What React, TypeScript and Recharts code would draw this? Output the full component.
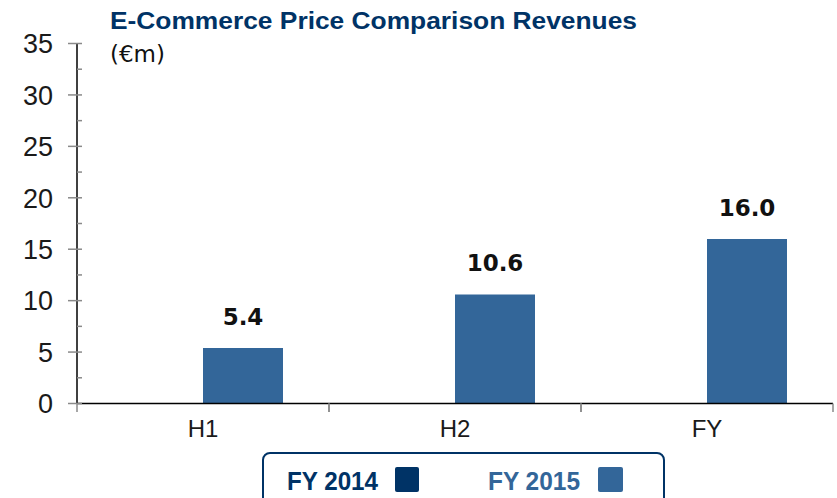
import React from 'react';
import { BarChart, Bar, XAxis, YAxis, LabelList } from 'recharts';

const categories = ['H1', 'H2', 'FY'];
const fy2014: (number | null)[] = [null, null, null];
const fy2015: number[] = [5.4, 10.6, 16.0];
const yTicks: number[] = [0, 2.5, 5, 7.5, 10, 12.5, 15, 17.5, 20, 22.5, 25, 27.5, 30, 32.5, 35];
const seriesNames = ['FY 2014', 'FY 2015'];
const titleText = 'E-Commerce Price Comparison Revenues';
const unitText = '(€m)';

const data = categories.map((c, i) => ({ name: c, fy2014: fy2014[i], fy2015: fy2015[i] }));

const W = 837;
const H = 498;
const MARGIN = { top: 43.5, right: 4, left: 17, bottom: 64.5 };
const Y_AXIS_W = 60;
const PLOT_LEFT = MARGIN.left + Y_AXIS_W;
const PLOT_W = W - MARGIN.right - PLOT_LEFT;
const STEP = PLOT_W / categories.length;

const NAVY = '#003366';
const BLUE = '#336699';
const GREY = '#8a8a8a';

const YTick = (props: any) => {
  const { x, y, payload } = props;
  const v = payload.value as number;
  const major = v % 5 === 0;
  return (
    <g>
      <line x1={major ? x - 9 : x} x2={x + 5} y1={y} y2={y} stroke={GREY} strokeWidth={1.5} />
      {major && (
        <text
          x={x - 24}
          y={y}
          dy="0.36em"
          textAnchor="end"
          fontFamily="'Liberation Sans', Arial, sans-serif"
          fontSize={27}
          fill="#1a1a1a"
        >
          {v}
        </text>
      )}
    </g>
  );
};

const XTick = (props: any) => {
  const { x, y, payload } = props;
  return (
    <g>
      <line x1={x - STEP / 2} x2={x - STEP / 2} y1={y} y2={y + 8.5} stroke={GREY} strokeWidth={1.5} />
      <line x1={x + STEP / 2} x2={x + STEP / 2} y1={y} y2={y + 8.5} stroke={GREY} strokeWidth={1.5} />
      <text
        x={x}
        y={y}
        dy={33.5}
        textAnchor="middle"
        fontFamily="'Liberation Sans', Arial, sans-serif"
        fontSize={24}
        fill="#1a1a1a"
      >
        {payload.value}
      </text>
    </g>
  );
};

export default function App() {
  return (
    <div style={{ position: 'absolute', left: 0, top: 0, width: W, height: H, overflow: 'hidden', background: '#fff' }}>
      <BarChart width={W} height={H} data={data} margin={MARGIN} barSize={80} barGap={0}>
        <XAxis
          dataKey="name"
          axisLine={{ stroke: '#000', strokeWidth: 1.5 }}
          tickLine={false}
          tickSize={0}
          tickMargin={0}
          height={30}
          tick={<XTick />}
          interval={0}
        />
        <YAxis
          domain={[0, 35]}
          ticks={yTicks}
          interval={0}
          width={Y_AXIS_W}
          axisLine={{ stroke: '#000', strokeWidth: 1.5 }}
          tickLine={false}
          tickSize={0}
          tickMargin={0}
          tick={<YTick />}
          allowDecimals
        />
        <Bar dataKey="fy2014" name={seriesNames[0]} fill={NAVY} isAnimationActive={false} />
        <Bar dataKey="fy2015" name={seriesNames[1]} fill={BLUE} isAnimationActive={false}>
          <LabelList
            dataKey="fy2015"
            position="top"
            offset={23}
            formatter={(v: any) => Number(v).toFixed(1)}
            style={{ fontFamily: "'DejaVu Sans', sans-serif", fontWeight: 700, fontSize: 23, fill: '#111' }}
          />
        </Bar>
      </BarChart>
      <svg width={W} height={H} style={{ position: 'absolute', left: 0, top: 0, pointerEvents: 'none' }}>
        <text
          x={110}
          y={29}
          fontFamily="'Liberation Sans', Arial, sans-serif"
          fontWeight={700}
          fontSize={23}
          fill={NAVY}
          textLength={527}
          lengthAdjust="spacingAndGlyphs"
        >
          {titleText}
        </text>
        <text x={110} y={62} fontFamily="'DejaVu Sans', sans-serif" fontSize={23} fill="#111">
          {unitText}
        </text>
        <rect x={263} y={453} width={401} height={70} rx={7} ry={7} fill="#fff" stroke={NAVY} strokeWidth={2} />
        <text
          x={287}
          y={490}
          fontFamily="'Liberation Sans', Arial, sans-serif"
          fontWeight={700}
          fontSize={25}
          fill={NAVY}
          textLength={91}
          lengthAdjust="spacingAndGlyphs"
        >
          {seriesNames[0]}
        </text>
        <rect x={395} y={467} width={24} height={25} rx={2} ry={2} fill={NAVY} />
        <text
          x={488}
          y={490}
          fontFamily="'Liberation Sans', Arial, sans-serif"
          fontWeight={700}
          fontSize={25}
          fill={BLUE}
          textLength={92}
          lengthAdjust="spacingAndGlyphs"
        >
          {seriesNames[1]}
        </text>
        <rect x={598} y={467} width={25} height={25} rx={2} ry={2} fill={BLUE} />
      </svg>
    </div>
  );
}
